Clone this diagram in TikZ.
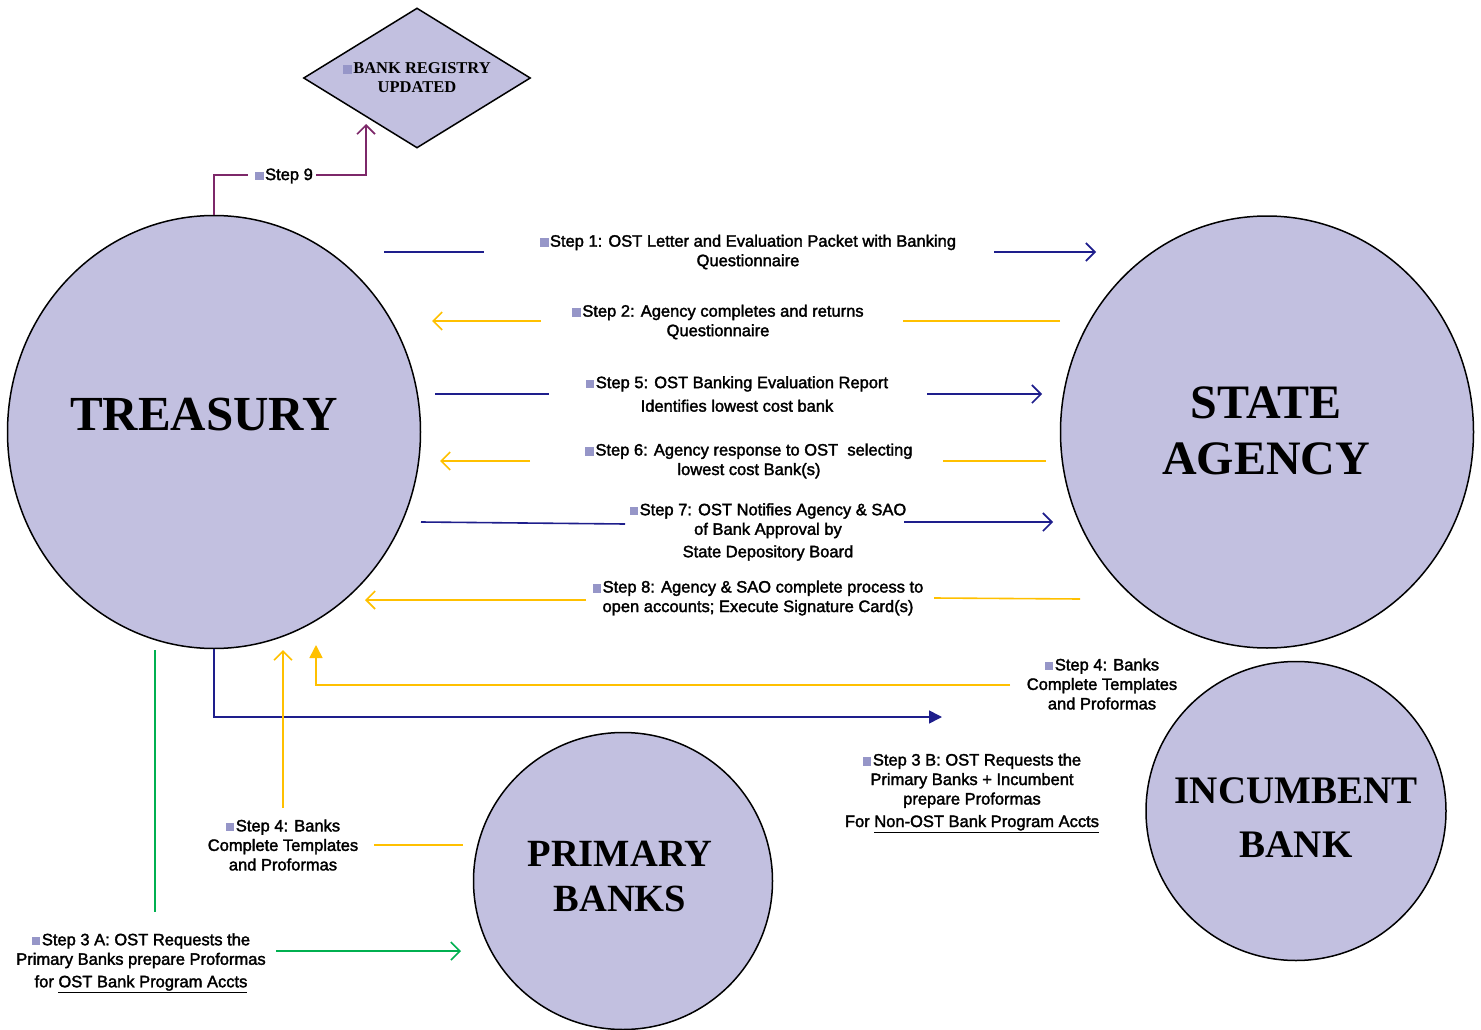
\documentclass[tikz,border=0pt]{standalone}
\usepackage{fontspec}
\setmainfont{Liberation Serif}
\setsansfont{Liberation Sans}
\newfontfamily\stepfont{Liberation Sans}[FakeBold=2]
\usetikzlibrary{shapes.geometric,arrows.meta}

\definecolor{discfill}{RGB}{194,192,224}
\definecolor{bulc}{RGB}{150,150,200}
\definecolor{navy}{RGB}{30,30,140}
\definecolor{amber}{RGB}{255,192,0}
\definecolor{grn}{RGB}{0,176,80}
\definecolor{plum}{RGB}{125,40,105}
\newcommand{\bsq}{{\color{bulc}\rule{8.5pt}{8.5pt}}\hspace{1.5pt}}

\tikzset{
  disc/.style={ellipse, draw=black, line width=1.5pt, fill=discfill, inner sep=0},
  head/.style 2 args={font=\bfseries\fontsize{#1}{#2}\selectfont, align=center, inner sep=0},
  steplbl/.style={font=\stepfont\fontsize{16.5}{19.5}\selectfont, align=center, inner sep=0},
  ln/.style={draw=#1, line width=1.6pt},
  barb/.style={-{Straight Barb[length=9pt,width=18pt]}},
  filltip/.style={-{Triangle[length=13pt,width=13pt]}}
}

\begin{document}
\begin{tikzpicture}[x=1pt,y=-1pt]
\useasboundingbox (0,0) rectangle (1481,1030);

\node[disc, minimum width=413pt, minimum height=433pt] (tre) at (214,432) {};
\node[disc, minimum width=413pt, minimum height=432pt] (sa) at (1267,432) {};
\node[disc, minimum width=299pt, minimum height=297pt] (pb) at (623,881) {};
\node[disc, minimum width=300pt, minimum height=299pt] (ib) at (1296,811) {};
\node[diamond, aspect=1.62, draw=black, line width=1.5pt, fill=discfill, inner sep=0,
      align=center, font=\bfseries\fontsize{16.5}{19}\selectfont,
      minimum width=227pt, minimum height=140pt] (reg) at (417,78)
      {\bsq BANK REGISTRY\\UPDATED};

\node[head={49}{56}] (trename) at (204,415) {TREASURY};
\node[head={48}{56}] (saname) at (1266,431) {STATE\\AGENCY};
\node[head={38.5}{45}] (pbname) at (620,876) {PRIMARY\\BANKS};
\node[head={39}{54}] (ibname) at (1296,818) {INCUMBENT\\BANK};

\node[steplbl] (s1) at (748,252) {\bsq Step 1: OST Letter and Evaluation Packet with Banking\\Questionnaire};
\node[steplbl] (s2) at (718,322) {\bsq Step 2: Agency completes and returns\\Questionnaire};
\node[steplbl] (s5) at (737,394) {\bsq Step 5: OST Banking Evaluation Report\\[4pt]Identifies lowest cost bank};
\node[steplbl] (s6) at (749,461) {\bsq Step 6: Agency response to OST\ \ selecting\\lowest cost Bank(s)};
\node[steplbl] (s7) at (768,532) {\bsq Step 7: OST Notifies Agency \& SAO\\of Bank Approval by\\[3pt]State Depository Board};
\node[steplbl] (s8) at (758,598) {\bsq Step 8: Agency \& SAO complete process to\\open accounts; Execute Signature Card(s)};
\node[steplbl] (s9) at (284,176) {\bsq Step 9};
\node[steplbl] (s4r) at (1102,684) {\bsq Step 4: Banks\\Complete Templates\\and Proformas};
\node[steplbl] (s4l) at (283,845) {\bsq Step 4: Banks\\Complete Templates\\and Proformas};
\node[steplbl] (s3a) at (141,963) {\bsq Step 3 A: OST Requests the\\Primary Banks prepare Proformas\\[3pt]for \underline{OST Bank Program Accts}};
\node[steplbl] (s3b) at (972,793) {\bsq Step 3 B: OST Requests the\\Primary Banks + Incumbent\\prepare Proformas\\[3pt]For \underline{Non-OST Bank Program Accts}};

\foreach \n/\x/\y in {s1a/384/252, s1b/484/252, s1c/994/252, s1d/1096/252,
                      s2a/1060/321, s2b/903/321, s2c/541/321, s2d/432/321,
                      s5a/435/394, s5b/549/394, s5c/927/394, s5d/1042/394,
                      s6a/1046/461, s6b/943/461, s6c/530/461, s6d/440/461,
                      s7a/421/522, s7b/625/524, s7c/904/522, s7d/1053/522,
                      s8a/1080/599, s8b/934/598, s8c/586/600, s8d/365/600,
                      s9a/248/175, s9b/316/175, s9c/366/124,
                      navy1/214/717, navy2/942/717,
                      am1/1010/685, am2/316/685, am3/316/645,
                      am4/463/845, am5/374/845, am6/283/808, am7/283/650,
                      g1/155/650, g2/155/912, g3/276/951, g4/461/951}
  \coordinate (\n) at (\x,\y);

\draw[ln=navy] (s1a) -- (s1b);
\draw[ln=navy, barb] (s1c) -- (s1d);
\draw[ln=amber] (s2a) -- (s2b);
\draw[ln=amber, barb] (s2c) -- (s2d);
\draw[ln=navy] (s5a) -- (s5b);
\draw[ln=navy, barb] (s5c) -- (s5d);
\draw[ln=amber] (s6a) -- (s6b);
\draw[ln=amber, barb] (s6c) -- (s6d);
\draw[ln=navy] (s7a) -- (s7b);
\draw[ln=navy, barb] (s7c) -- (s7d);
\draw[ln=amber] (s8a) -- (s8b);
\draw[ln=amber, barb] (s8c) -- (s8d);

\draw[ln=plum] (tre.north) |- (s9a);
\draw[ln=plum, barb] (s9b) -| (s9c);

\draw[ln=navy, filltip] (tre.south) -- (navy1) -- (navy2);
\draw[ln=amber, filltip] (am1) -- (am2) -- (am3);
\draw[ln=amber] (am4) -- (am5);
\draw[ln=amber, barb] (am6) -- (am7);
\draw[ln=grn] (g1) -- (g2);
\draw[ln=grn, barb] (g3) -- (g4);
\end{tikzpicture}
\end{document}
